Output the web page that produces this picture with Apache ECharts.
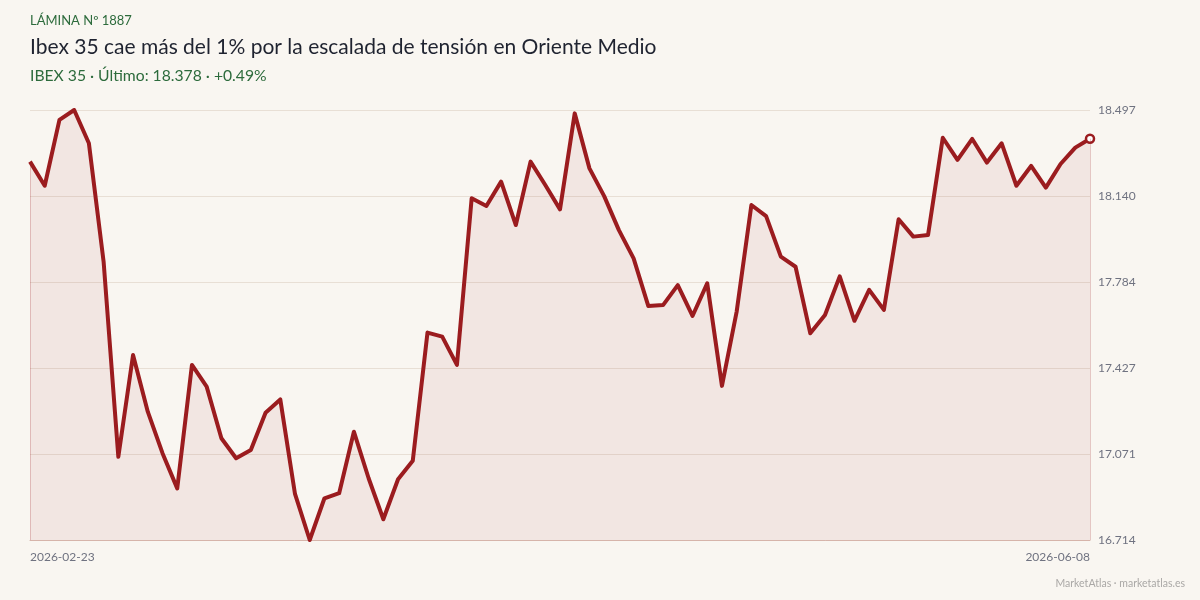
<!DOCTYPE html>
<html>
<head>
<meta charset="utf-8">
<script src="https://cdn.jsdelivr.net/npm/echarts@6/dist/echarts.min.js"></script>
<style>
html,body{margin:0;padding:0;background:#f9f6f1;}
#c{width:1200px;height:600px;}
</style>
</head>
<body>
<div id="c"></div>
<script>
const dates = [
 "2026-02-23","2026-02-24","2026-02-25","2026-02-26","2026-02-27",
 "2026-03-02","2026-03-03","2026-03-04","2026-03-05","2026-03-06",
 "2026-03-09","2026-03-10","2026-03-11","2026-03-12","2026-03-13",
 "2026-03-16","2026-03-17","2026-03-18","2026-03-19","2026-03-20",
 "2026-03-23","2026-03-24","2026-03-25","2026-03-26","2026-03-27",
 "2026-03-30","2026-03-31","2026-04-01","2026-04-02",
 "2026-04-07","2026-04-08","2026-04-09","2026-04-10",
 "2026-04-13","2026-04-14","2026-04-15","2026-04-16","2026-04-17",
 "2026-04-20","2026-04-21","2026-04-22","2026-04-23","2026-04-24",
 "2026-04-27","2026-04-28","2026-04-29","2026-04-30",
 "2026-05-04","2026-05-05","2026-05-06","2026-05-07","2026-05-08",
 "2026-05-11","2026-05-12","2026-05-13","2026-05-14","2026-05-15",
 "2026-05-18","2026-05-19","2026-05-20","2026-05-21","2026-05-22",
 "2026-05-25","2026-05-26","2026-05-27","2026-05-28","2026-05-29",
 "2026-06-01","2026-06-02","2026-06-03","2026-06-04","2026-06-05",
 "2026-06-08"
];
const ibexClose = [
 18.283,18.183,18.456,18.497,18.359,17.868,17.059,17.481,17.246,17.074,
 16.928,17.440,17.350,17.136,17.053,17.087,17.242,17.297,16.905,16.714,
 16.887,16.908,17.163,16.970,16.800,16.966,17.043,17.574,17.557,17.440,
 18.131,18.099,18.200,18.020,18.283,18.186,18.085,18.483,18.255,18.140,
 17.999,17.882,17.684,17.688,17.771,17.643,17.778,17.353,17.661,18.103,
 18.057,17.889,17.847,17.571,17.647,17.807,17.623,17.751,17.668,18.044,
 17.972,17.979,18.382,18.290,18.377,18.279,18.359,18.183,18.265,18.175,
 18.273,18.341,18.378
];
const yMin = 16.714, yMax = 18.497;
const yInterval = (yMax - yMin) / 5;

const kicker = "LÁMINA Nº 1887";
const titleText = "Ibex 35 cae más del 1% por la escalada de tensión en Oriente Medio";
const subText = "IBEX 35 · Último: 18.378 · +0.49%";
const footer = "MarketAtlas · marketatlas.es";

const LINE = "#9b1c1f";
const FONT = "Lato, 'Noto Sans', sans-serif";

const seriesData = ibexClose.map((v, i) => i === ibexClose.length - 1
  ? {value: v, symbol: 'circle', symbolSize: 8, itemStyle: {color: '#ffffff', borderColor: LINE, borderWidth: 2.5}}
  : {value: v, symbol: 'none'});

const last = dates.length - 1;
const chart = echarts.init(document.getElementById('c'), null, {renderer: 'canvas'});
chart.setOption({
  backgroundColor: '#f9f6f1',
  animation: false,
  textStyle: {fontFamily: FONT},
  graphic: [
    {type: 'text', left: 30, top: 14, style: {text: kicker, fill: '#2d6b3c', font: "13px " + FONT}},
    {type: 'text', left: 30, top: 37, style: {text: titleText, fill: '#1f2330', font: "21px " + FONT}},
    {type: 'text', left: 30, top: 68, style: {text: subText, fill: '#2d6b3c', font: "15.7px " + FONT}},
    {type: 'text', right: 15, top: 578, style: {text: footer, fill: '#aaa8a6', font: "10.5px " + FONT}}
  ],
  grid: {left: 30, right: 110, top: 110, bottom: 60, containLabel: false},
  xAxis: {
    type: 'category',
    data: dates,
    boundaryGap: false,
    axisLine: {show: true, lineStyle: {color: '#d6b4aa', width: 1}},
    axisTick: {show: false},
    splitLine: {show: false},
    axisLabel: {
      color: '#6f7280', fontSize: 12, fontFamily: FONT, margin: 11,
      interval: (idx) => idx === 0 || idx === last,
      alignMinLabel: 'left', alignMaxLabel: 'right',
      showMinLabel: true, showMaxLabel: true
    }
  },
  yAxis: {
    type: 'value',
    position: 'right',
    min: yMin, max: yMax, interval: yInterval,
    axisLine: {show: false},
    axisTick: {show: false},
    splitLine: {show: true, lineStyle: {color: '#e8dfd5', width: 1}},
    axisLabel: {
      color: '#6f7280', fontSize: 12, fontFamily: FONT, margin: 8,
      formatter: (v) => v.toFixed(3)
    }
  },
  series: [{
    type: 'line',
    data: seriesData,
    showSymbol: true,
    symbol: 'none',
    lineStyle: {color: LINE, width: 4, join: 'round'},
    itemStyle: {color: LINE},
    areaStyle: {color: 'rgba(155,28,31,0.1)', origin: 'start'},
    z: 3,
    markLine: {
      silent: true, symbol: 'none', label: {show: false},
      lineStyle: {color: 'rgba(155,28,31,0.22)', width: 1, type: 'solid'},
      data: [
        [{coord: [dates[0], yMin]}, {coord: [dates[0], ibexClose[0]]}],
        [{coord: [dates[last], yMin]}, {coord: [dates[last], ibexClose[last]]}]
      ]
    }
  }]
});
</script>
</body>
</html>
